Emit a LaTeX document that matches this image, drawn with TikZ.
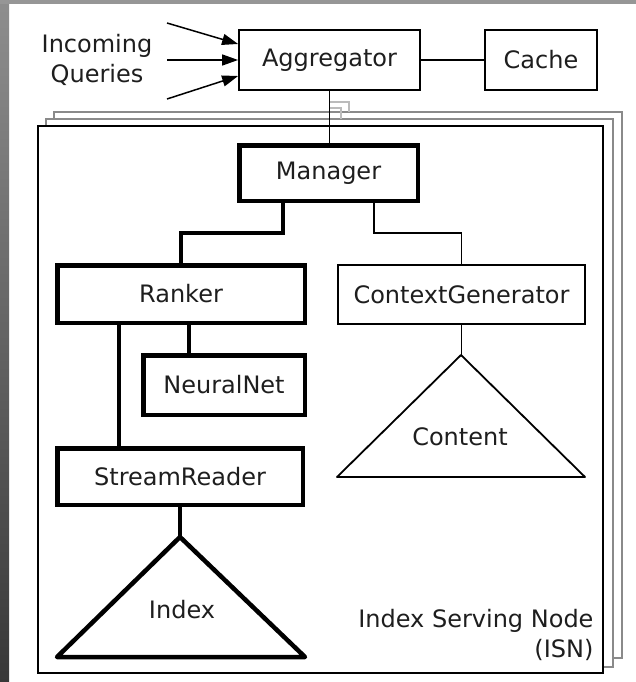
\documentclass[tikz,border=0pt]{standalone}
\usepackage{fontspec}
\setmainfont{DejaVu Sans}
\usetikzlibrary{arrows.meta}
\definecolor{bandgray}{HTML}{969696}
\definecolor{stripdark}{HTML}{383838}
\definecolor{stripgray}{HTML}{8E8E8E}
\definecolor{layergray}{HTML}{8A8A8A}
\definecolor{elbowgray}{HTML}{BBBBBB}
\definecolor{inkgray}{HTML}{1E1E1E}
\begin{document}
\begin{tikzpicture}[x=1pt,y=-1pt,
  label/.style={font=\fontsize{24}{30}\selectfont, text=inkgray},
  box/.style={draw, line width=1.8pt, fill=white, inner sep=0pt, label},
  heavybox/.style={box, line width=4.5pt},
  thinline/.style={line width=1.8pt},
  heavyline/.style={line width=4.5pt},
  layer/.style={draw=layergray, line width=1.6pt, fill=white},
  query/.style={line width=1.5pt, -{Triangle[length=16pt,width=11pt]}}]

% page and its grey edges
\useasboundingbox (0,0) rectangle (636,682);
\fill[white] (0,0) rectangle (636,682);
\shade[top color=stripgray, bottom color=stripdark] (0,0) rectangle (9,682);
\fill[bandgray] (0,0) rectangle (636,4);

% stacked node frames, back to front
\draw[layer] (54,112) rectangle (622,658);
\draw[layer] (46,119) rectangle (613,667);
\draw[elbowgray, line width=1.4pt] (329,102) -- (349,102) -- (349,112);
\draw[elbowgray, line width=1.4pt] (329,108) -- (341,108) -- (341,119);
\draw[line width=1.8pt, fill=white] (38,126) rectangle (603,673);

% front-end boxes
\node[box, minimum width=181pt, minimum height=60pt] (agg) at (329.5,60) {Aggregator};
\node[box, minimum width=112pt, minimum height=60pt] (cache) at (541,60) {Cache};
\node[label, align=center] (queries) at (97,60) {Incoming\\Queries};

\coordinate (q1) at (167,23);
\coordinate (q2) at (167,60);
\coordinate (q3) at (167,99);
\draw[query] (q1) -- ([yshift=16pt]agg.west);
\draw[query] (q2) -- (agg.west);
\draw[query] (q3) -- ([yshift=-16pt]agg.west);
\draw[thinline] (agg.east) -- (cache.west);

% components of the serving node
\node[heavybox, minimum width=178.5pt, minimum height=55.5pt] (mgr) at (328.5,173) {Manager};
\node[heavybox, minimum width=247.5pt, minimum height=57.5pt] (ranker) at (181,294) {Ranker};
\node[heavybox, minimum width=161.5pt, minimum height=59.5pt] (nn) at (224,385) {NeuralNet};
\node[heavybox, minimum width=245.5pt, minimum height=56.5pt] (stream) at (180,476.5) {StreamReader};
\node[box, minimum width=247pt, minimum height=59pt] (cg) at (461.5,294.5) {ContextGenerator};

% index and content stores
\coordinate (idxtop) at (180,537);
\draw[heavyline, line join=round, fill=white] (idxtop) -- (305,657) -- (57,657) -- cycle;
\node[label] (idx) at (182,610) {Index};
\coordinate (cnttop) at (461,355);
\draw[thinline, line join=round, fill=white] (cnttop) -- (585,477) -- (337,477) -- cycle;
\node[label] (cnt) at (460,437) {Content};

% connectors
\draw[thinline] (agg.south) -- (agg.south |- mgr.north);
\draw[heavyline] ([xshift=-45.5pt]mgr.south) -- ++(0,30) -| (ranker.north);
\draw[thinline] ([xshift=45.5pt]mgr.south) -- ++(0,30) -| (cg.north);
\draw[heavyline] ([xshift=8pt]ranker.south) -- ([xshift=8pt]ranker.south |- nn.north);
\draw[heavyline] ([xshift=-62pt]ranker.south) -- ([xshift=-62pt]ranker.south |- stream.north);
\draw[heavyline] (stream.south) -- (stream.south |- idxtop);
\draw[thinline] (cg.south) -- (cg.south |- cnttop);

\node[label, align=right, anchor=east] (isn) at (597,635) {Index Serving Node\\(ISN)};
\end{tikzpicture}
\end{document}
